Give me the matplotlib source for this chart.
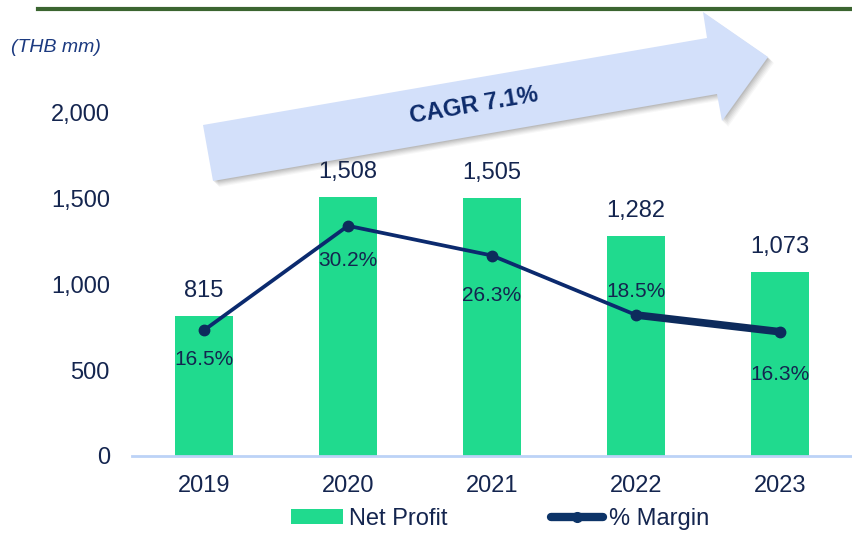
import matplotlib
matplotlib.use("Agg")
import matplotlib.pyplot as plt
from matplotlib.patches import Polygon
from matplotlib.lines import Line2D
import numpy as np

plt.rcParams['font.family'] = ['Liberation Sans', 'DejaVu Sans']

# data
years = ['2019', '2020', '2021', '2022', '2023']
net_profit = [815, 1508, 1505, 1282, 1073]
margin = [16.5, 30.2, 26.3, 18.5, 16.3]
yticks = [0, 500, 1000, 1500, 2000]

# styling
BAR = '#20da8e'
NAVY = '#0b2a6e'
TXT = '#14254f'
W, H = 852, 533

fig = plt.figure(figsize=(W / 100, H / 100), dpi=100)

def fx(px):
    return px / W

def fy(py):
    return 1 - py / H

ax = fig.add_axes([fx(132), fy(456), fx(852) - fx(132), fy(113) - fy(456)])
x = np.arange(len(years))

bars = ax.bar(x, net_profit, width=0.4, color=BAR, zorder=2)
for xi, v in zip(x, net_profit):
    ax.annotate(f"{v:,}", (xi, v), xytext=(0, 10), textcoords='offset points',
                ha='center', va='bottom', fontsize=17, color=TXT)

ax.set_xlim(-0.5, len(years) - 0.5)
ax.set_ylim(0, 2000)
ax.set_yticks(yticks)
ax.set_yticklabels([f"{t:,}" for t in yticks])
ax.set_xticks(x)
ax.set_xticklabels(years)
ax.tick_params(axis='both', length=0, labelsize=17, labelcolor=TXT)
ax.tick_params(axis='y', pad=16)
ax.tick_params(axis='x', pad=14)
for s in ['top', 'right', 'left']:
    ax.spines[s].set_visible(False)
ax.spines['bottom'].set_color('#bcd3f7')
ax.spines['bottom'].set_linewidth(2)

# margin line on hidden secondary scale
ax2 = ax.twinx()
ax2.set_ylim(0, 45)
ax2.axis('off')
ax2.plot(x, margin, color=NAVY, lw=2.7, marker='o', ms=7.5,
         mfc='#0d2b5c', mec='#0d2b5c', zorder=3)
ax2.plot(x[3:], margin[3:], color='#0d2b5c', lw=5.5, solid_capstyle='round', zorder=3)
label_offsets = [-21, -25, -29, 17, -31]
for xi, m, off in zip(x, margin, label_offsets):
    ax2.annotate(f"{m}%", (xi, m), xytext=(0, off), textcoords='offset points',
                 ha='center', va='center', fontsize=15, color=TXT)

# top rule and unit label
fig.add_artist(Line2D([fx(38), 1], [fy(8.5), fy(8.5)], color='#3b6530', lw=3))
fig.text(fx(11), fy(47), '(THB mm)', fontsize=14, style='italic', color='#1c3a80',
         ha='left', va='center')

# CAGR arrow
pts = [(203, 125), (707, 38), (703, 12), (768, 57), (722, 121), (717, 94), (213, 181)]
for k, a in zip(range(6, 0, -1), [0.04, 0.05, 0.06, 0.07, 0.08, 0.1]):
    shadow = [(fx(px + k), fy(py + k)) for px, py in pts]
    fig.add_artist(Polygon(shadow, closed=True, facecolor='#404040', edgecolor='none',
                           alpha=a, transform=fig.transFigure, zorder=4))
fig.add_artist(Polygon([(fx(px), fy(py)) for px, py in pts], closed=True,
                       facecolor='#d3e0fa', edgecolor='none',
                       transform=fig.transFigure, zorder=5))
fig.text(fx(474), fy(106), 'CAGR 7.1%', fontsize=17, fontweight='bold', color='#0d2b6b',
         rotation=9.8, ha='center', va='center', zorder=6)

# legend
handles = [bars, Line2D([], [], color='#0d3468', lw=6, marker='o', ms=7,
                        solid_capstyle='round')]
fig.legend(handles, ['Net Profit', '% Margin'], loc='center', ncol=2,
           bbox_to_anchor=(fx(500), fy(519)), frameon=False, fontsize=17,
           labelcolor=TXT, handlelength=2.2, handletextpad=0.25, columnspacing=4.4,
           handleheight=0.6, borderpad=0.2)

fig.savefig('out.png', dpi=100)
